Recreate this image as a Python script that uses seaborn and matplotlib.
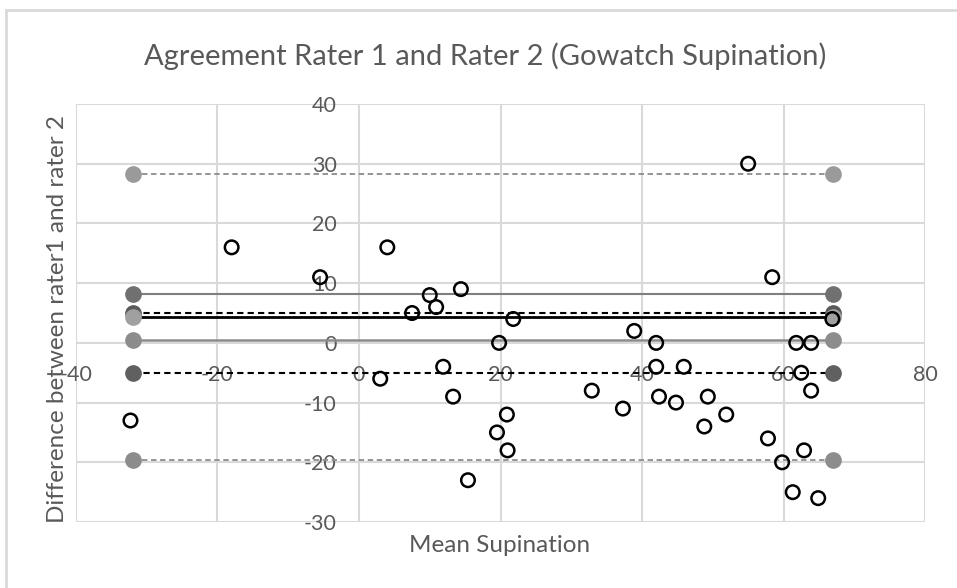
import matplotlib
matplotlib.use("Agg")
import matplotlib.pyplot as plt
import seaborn as sns
import pandas as pd
from matplotlib.patches import Rectangle

# Bland-Altman data
mean_supination = [-32.3, -18, -5.5, 4, 10, 14.4, 10.9, 7.5, 3, 11.9, 13.3, 15.4,
                   21.8, 19.8, 20.9, 19.5, 21, 32.9, 37.3, 38.9, 42, 42, 45.9, 42.4,
                   44.8, 49.3, 48.8, 51.9, 57.8, 59.8, 61.3, 62.9, 64.9, 61.8, 63.9,
                   62.5, 63.9, 66.9, 55, 58.4]
difference = [-13, 16, 11, 16, 8, 9, 6, 5, -6, -4, -9, -23,
              4, 0, -12, -15, -18, -8, -11, 2, 0, -4, -4, -9,
              -10, -9, -14, -12, -16, -20, -25, -18, -26, 0, 0,
              -5, -8, 4, 30, 11]

# reference lines: value, line colour, style, width, marker colour
ref_values = [28.35, 8.2, 5.0, 4.4, 0.5, -5.0, -19.55]
ref_colors = ["#8c8c8c", "#7f7f7f", "#000000", "#000000", "#8c8c8c", "#000000", "#8c8c8c"]
ref_styles = ["--", "-", "--", "-", "-", "--", "--"]
ref_widths = [1.3, 1.5, 1.5, 2.0, 1.8, 1.5, 1.3]
ref_markers = ["#9a9a9a", "#707070", "#595959", "#a0a0a0", "#8c8c8c", "#606060", "#8c8c8c"]

df = pd.DataFrame({"mean": mean_supination, "diff": difference})

sns.set_style("white")
plt.rcParams['font.family'] = ['Lato', 'DejaVu Sans']
plt.rcParams['axes.unicode_minus'] = False

fig = plt.figure(figsize=(9.57, 5.88), dpi=100)
ax = fig.add_axes([0.0794, 0.1122, 0.8872, 0.7109])

x_lo, x_hi = min(mean_supination), max(mean_supination) + 0.05
for val, col, ls, lw, mc in zip(ref_values, ref_colors, ref_styles, ref_widths, ref_markers):
    ax.plot([x_lo + 0.3, x_hi], [val, val], color=col, ls=ls, lw=lw, dashes=(3, 2) if ls == "--" else (None, None),
            marker="o", markersize=11, markerfacecolor=mc, markeredgecolor=mc, zorder=3)

sns.scatterplot(data=df, x="mean", y="diff", ax=ax, s=95, facecolor="none",
                edgecolor="black", linewidth=1.8, zorder=4)

ax.set_xlim(-40, 80)
ax.set_ylim(-30, 40)
ax.set_xticks(range(-40, 81, 20))
ax.set_yticks(range(-30, 41, 10))
ax.grid(True, color="#d9d9d9", lw=1.5)
ax.set_axisbelow(True)

# axes cross inside the plot like in Excel
ax.spines['left'].set_position(('data', 0))
ax.spines['bottom'].set_position(('data', -3.3))
for s in ax.spines.values():
    s.set_color("none")
ax.tick_params(axis="both", length=0, labelsize=15.5, labelcolor="#595959")
ax.tick_params(axis="y", pad=16)
ax.tick_params(axis="x", pad=2)

ax.set_xlabel("")
ax.set_ylabel("")
fig.text(0.522, 0.073, "Mean Supination", ha="center", va="center", fontsize=17.5, color="#595959")
fig.text(0.06, 0.4575, "Difference between rater1 and rater 2", rotation=90,
         ha="center", va="center", fontsize=17.5, color="#595959")
fig.text(0.507, 0.905, "Agreement Rater 1 and Rater 2 (Gowatch Supination)", ha="center",
         va="center", fontsize=21, color="#595959")

# chart area border (left and top only visible)
fig.patches.append(Rectangle((6 / 957, -0.1), 1.2, 1 - 10 / 588 + 0.1, transform=fig.transFigure,
                             fill=False, edgecolor="#d9d9d9", lw=2))

fig.savefig("out.png", dpi=100)
